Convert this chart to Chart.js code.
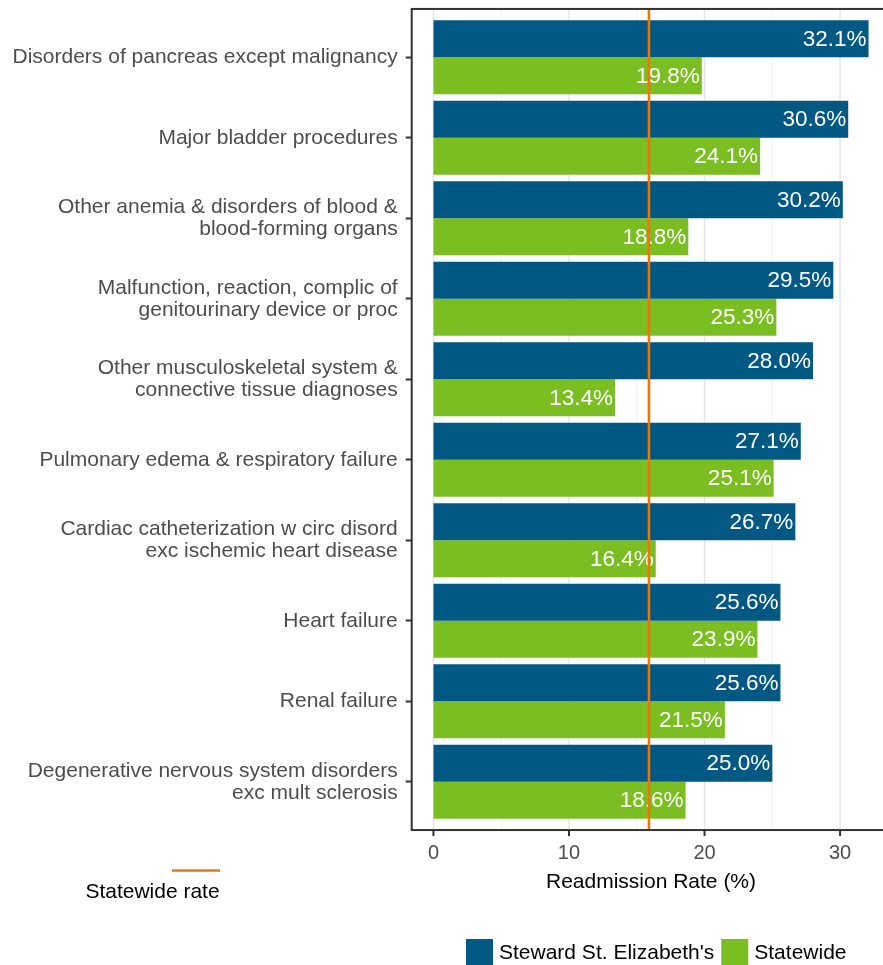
<!DOCTYPE html>
<html>
<head>
<meta charset="utf-8">
<script src="https://cdn.jsdelivr.net/npm/chart.js@4.4.1/dist/chart.umd.min.js"></script>
<style>
  html, body { margin: 0; padding: 0; background: #fff; overflow: hidden; }
  #wrap { width: 892px; height: 965px; }
</style>
</head>
<body>
<div id="wrap"><canvas id="readmit"></canvas></div>
<script>
const categories = [
  'Disorders of pancreas except malignancy',
  'Major bladder procedures',
  ['Other anemia & disorders of blood &', 'blood-forming organs'],
  ['Malfunction, reaction, complic of', 'genitourinary device or proc'],
  ['Other musculoskeletal system &', 'connective tissue diagnoses'],
  'Pulmonary edema & respiratory failure',
  ['Cardiac catheterization w circ disord', 'exc ischemic heart disease'],
  'Heart failure',
  'Renal failure',
  ['Degenerative nervous system disorders', 'exc mult sclerosis']
];
const hospitalRates = [32.1, 30.6, 30.2, 29.5, 28.0, 27.1, 26.7, 25.6, 25.6, 25.0];
const statewideRates = [19.8, 24.1, 18.8, 25.3, 13.4, 25.1, 16.4, 23.9, 21.5, 18.6];
const statewideRate = 15.9;
const xTicks = [0, 10, 20, 30];
const xMinorTicks = [5, 15, 25];

const BLUE = '#015883';
const GREEN = '#7bbe22';
const ORANGE = '#e8770e';
const FONT = "'Liberation Sans', Arial, sans-serif";

Chart.defaults.font.family = FONT;

// gridlines behind the bars, frame / labels / legends on top
const panel = {
  id: 'panel',
  frame(chart) {
    const a = chart.chartArea;
    const band = (a.bottom - a.top) / categories.length;
    return { left: a.left, right: a.right, top: a.top - 0.1 * band, bottom: a.bottom + 0.1 * band };
  },
  beforeDatasetsDraw(chart) {
    const ctx = chart.ctx, x = chart.scales.x, f = this.frame(chart);
    ctx.save();
    xMinorTicks.forEach(v => {
      const px = x.getPixelForValue(v);
      ctx.strokeStyle = '#f0f0f0'; ctx.lineWidth = 1;
      ctx.beginPath(); ctx.moveTo(px, f.top); ctx.lineTo(px, f.bottom); ctx.stroke();
    });
    xTicks.forEach(v => {
      const px = x.getPixelForValue(v);
      ctx.strokeStyle = '#e6e6e6'; ctx.lineWidth = 1.5;
      ctx.beginPath(); ctx.moveTo(px, f.top); ctx.lineTo(px, f.bottom); ctx.stroke();
    });
    ctx.restore();
  },
  afterDatasetsDraw(chart) {
    const ctx = chart.ctx, x = chart.scales.x, f = this.frame(chart);
    ctx.save();
    // value labels inside bar ends
    ctx.font = '22.5px ' + FONT;
    ctx.fillStyle = '#fff';
    ctx.textAlign = 'right';
    ctx.textBaseline = 'middle';
    chart.data.datasets.forEach((ds, i) => {
      chart.getDatasetMeta(i).data.forEach((bar, j) => {
        ctx.fillText(ds.data[j].toFixed(1) + '%', bar.x - 2, bar.y + 1);
      });
    });
    // statewide rate line
    const sx = x.getPixelForValue(statewideRate);
    ctx.strokeStyle = ORANGE; ctx.lineWidth = 2.6;
    ctx.beginPath(); ctx.moveTo(sx, f.top); ctx.lineTo(sx, f.bottom); ctx.stroke();
    // panel frame
    ctx.strokeStyle = '#333'; ctx.lineWidth = 2;
    ctx.strokeRect(f.left, f.top, f.right - f.left, f.bottom - f.top);
    // x tick marks
    xTicks.forEach(v => {
      const px = x.getPixelForValue(v);
      ctx.beginPath(); ctx.moveTo(px, f.bottom); ctx.lineTo(px, f.bottom + 6); ctx.stroke();
    });
    ctx.restore();
  },
  afterDraw(chart) {
    const ctx = chart.ctx;
    ctx.save();
    ctx.font = '21px ' + FONT;
    ctx.textBaseline = 'middle';
    // statewide rate key
    ctx.strokeStyle = ORANGE; ctx.lineWidth = 2.6;
    ctx.beginPath(); ctx.moveTo(172, 870.5); ctx.lineTo(220, 870.5); ctx.stroke();
    ctx.fillStyle = '#000';
    ctx.textAlign = 'center';
    ctx.fillText('Statewide rate', 152.5, 892);
    // series key
    ctx.textAlign = 'left';
    let lx = 466;
    chart.data.datasets.forEach(ds => {
      ctx.fillStyle = ds.backgroundColor;
      ctx.fillRect(lx, 939, 27, 27);
      ctx.fillStyle = '#000';
      ctx.fillText(ds.label, lx + 33, 953);
      lx += 33 + ctx.measureText(ds.label).width + 7;
    });
    ctx.restore();
  }
};

new Chart(document.getElementById('readmit'), {
  type: 'bar',
  data: {
    labels: categories,
    datasets: [
      { label: "Steward St. Elizabeth's", data: hospitalRates, backgroundColor: BLUE },
      { label: 'Statewide', data: statewideRates, backgroundColor: GREEN }
    ]
  },
  options: {
    indexAxis: 'y',
    responsive: true,
    maintainAspectRatio: false,
    animation: false,
    categoryPercentage: 0.92,
    barPercentage: 1.0,
    layout: { padding: { top: 17, bottom: 63, left: 0, right: 1.7 } },
    plugins: { legend: { display: false }, tooltip: { enabled: false } },
    scales: {
      x: {
        min: -1.605,
        max: 33.705,
        afterBuildTicks: s => { s.ticks = xTicks.map(v => ({ value: v })); },
        grid: { display: false },
        border: { display: false },
        ticks: { color: '#4d4d4d', font: { size: 20 }, padding: 11 },
        title: {
          display: true, text: 'Readmission Rate (%)', color: '#000',
          font: { size: 21 }, padding: { top: 0, bottom: 7 }
        },
        afterFit: s => { s.height = 80; s.paddingLeft = 0; s.paddingRight = 0; }
      },
      y: {
        grid: {
          offset: false, drawOnChartArea: false, drawTicks: true,
          tickLength: 6, tickWidth: 2, tickColor: '#333'
        },
        border: { display: false },
        ticks: {
          color: '#4d4d4d', font: { size: 21, lineHeight: 1.05 },
          padding: 8, autoSkip: false
        },
        afterFit: s => { s.width = 411.7; s.paddingTop = 0; s.paddingBottom = 0; }
      }
    }
  },
  plugins: [panel]
});
</script>
</body>
</html>
